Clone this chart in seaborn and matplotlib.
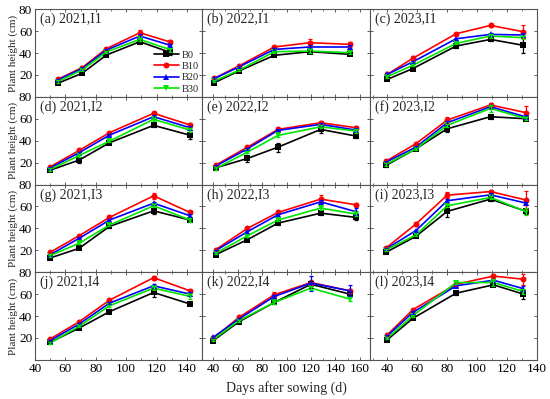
import numpy as np
import pandas as pd
import matplotlib
matplotlib.use("Agg")
import matplotlib.pyplot as plt
from matplotlib.ticker import MultipleLocator
import seaborn as sns

# ---------------- data ----------------
panels = ["a", "b", "c", "d", "e", "f", "g", "h", "i", "j", "k", "l"]
titles = ["(a) 2021,I1", "(b) 2022,I1", "(c) 2023,I1",
          "(d) 2021,I2", "(e) 2022,I2", "(f) 2023,I2",
          "(g) 2021,I3", "(h) 2022,I3", "(i) 2023,I3",
          "(j) 2021,I4", "(k) 2022,I4", "(l) 2023,I4"]
treatments = ["B0", "B10", "B20", "B30"]

days = {
    "a": [55, 71, 87, 109, 129], "b": [41, 61, 90, 119, 152], "c": [40, 57, 86, 109, 131],
    "d": [50, 69, 89, 118, 142], "e": [42, 68, 93, 128, 157], "f": [39, 59, 80, 109, 133],
    "g": [50, 69, 89, 118, 142], "h": [42, 68, 93, 128, 157], "i": [39, 59, 80, 109, 133],
    "j": [50, 69, 89, 118, 142], "k": [40, 61, 90, 120, 152], "l": [40, 57, 86, 111, 131],
}

B0 = {
    "a": [12.4, 21.5, 38.2, 50.3, 40.5], "b": [13.0, 23.6, 37.9, 41.2, 38.8], "c": [16.0, 25.8, 46.4, 52.4, 47.0],
    "d": [13.1, 22.3, 38.1, 54.0, 45.0], "e": [15.2, 23.8, 34.1, 50.3, 44.2], "f": [17.4, 32.6, 50.9, 61.9, 60.0],
    "g": [13.0, 21.8, 41.8, 56.0, 47.6], "h": [16.0, 29.7, 44.8, 53.9, 50.0], "i": [18.2, 32.7, 55.5, 66.7, 55.5],
    "j": [16.0, 29.0, 44.0, 61.5, 51.0], "k": [17.6, 34.8, 52.4, 69.0, 60.0], "l": [18.5, 37.9, 60.9, 68.5, 60.0],
}
B10 = {
    "a": [16.0, 26.7, 44.0, 58.5, 50.0], "b": [17.0, 28.2, 45.5, 49.4, 47.9], "c": [20.6, 35.2, 57.6, 65.2, 59.4],
    "d": [16.2, 31.1, 47.3, 65.0, 54.3], "e": [17.7, 34.1, 50.3, 56.4, 51.8], "f": [21.3, 37.2, 58.8, 72.6, 65.5],
    "g": [18.2, 33.3, 50.0, 69.7, 54.5], "h": [20.6, 40.0, 54.5, 66.7, 61.5], "i": [22.1, 43.9, 70.3, 73.6, 65.8],
    "j": [19.1, 34.8, 54.5, 75.0, 63.0], "k": [19.7, 38.8, 59.4, 70.6, 63.0], "l": [23.0, 45.8, 69.0, 76.5, 73.6],
}
B20 = {
    "a": [15.5, 25.8, 42.7, 55.5, 47.0], "b": [16.7, 27.3, 43.3, 45.5, 45.5], "c": [20.6, 32.0, 53.0, 57.0, 56.4],
    "d": [15.2, 29.0, 45.1, 61.9, 51.8], "e": [16.8, 32.6, 49.4, 54.9, 49.7], "f": [20.4, 34.1, 56.4, 71.0, 61.6],
    "g": [16.0, 30.9, 47.6, 63.0, 51.5], "h": [19.7, 37.0, 52.4, 64.2, 55.2], "i": [21.2, 37.9, 65.2, 70.6, 63.0],
    "j": [17.6, 32.7, 51.8, 67.6, 60.0], "k": [20.6, 37.3, 57.9, 70.0, 63.0], "l": [22.0, 43.3, 67.6, 72.7, 65.0],
}
B30 = {
    "a": [14.0, 24.5, 41.0, 52.4, 43.0], "b": [14.5, 24.2, 41.2, 41.8, 40.3], "c": [18.5, 28.8, 48.8, 55.5, 54.0],
    "d": [13.7, 26.5, 39.6, 59.5, 49.7], "e": [14.6, 29.6, 44.8, 52.7, 48.8], "f": [18.3, 32.6, 54.0, 69.5, 60.0],
    "g": [15.2, 26.4, 43.0, 60.6, 47.6], "h": [17.3, 33.3, 47.6, 58.5, 53.0], "i": [20.3, 33.9, 60.6, 68.2, 55.2],
    "j": [15.5, 30.6, 49.4, 65.5, 57.9], "k": [18.5, 35.8, 52.4, 65.5, 55.5], "l": [20.0, 40.3, 70.6, 70.6, 62.4],
}

# error bars (SD), same layout
err_B0 = {
    "a": [1.0, 1.0, 1.0, 1.5, 2.0], "b": [1.0, 1.0, 1.0, 1.0, 1.0], "c": [1.0, 1.0, 1.5, 1.5, 7.0],
    "d": [1.0, 3.0, 1.0, 1.5, 3.0], "e": [1.0, 3.0, 4.0, 3.0, 1.5], "f": [1.0, 1.0, 3.0, 2.0, 1.5],
    "g": [1.0, 1.0, 1.5, 3.0, 1.5], "h": [1.0, 1.0, 1.5, 1.5, 2.0], "i": [1.0, 1.0, 5.0, 1.5, 2.0],
    "j": [1.0, 1.0, 1.5, 4.0, 1.0], "k": [1.0, 1.0, 1.5, 3.0, 2.0], "l": [1.0, 1.0, 1.5, 1.5, 4.0],
}
err_B10 = {
    "a": [1.0, 1.0, 1.0, 2.5, 1.5], "b": [1.0, 1.0, 1.0, 3.0, 2.0], "c": [1.0, 2.0, 1.0, 1.5, 6.0],
    "d": [1.0, 1.0, 1.0, 1.5, 1.5], "e": [1.0, 1.0, 1.0, 1.5, 1.5], "f": [1.0, 1.0, 3.0, 1.5, 6.0],
    "g": [1.0, 1.0, 1.0, 3.0, 1.5], "h": [1.0, 1.0, 1.0, 4.0, 1.5], "i": [1.0, 1.5, 3.0, 1.5, 8.0],
    "j": [1.0, 1.0, 1.0, 2.0, 1.5], "k": [1.0, 1.0, 3.0, 2.0, 2.0], "l": [1.0, 1.0, 1.5, 1.5, 5.0],
}
err_B20 = {
    "a": [1.0, 1.0, 1.0, 1.5, 1.5], "b": [1.0, 1.0, 1.0, 1.5, 1.5], "c": [1.0, 1.0, 1.0, 1.5, 1.5],
    "d": [1.0, 1.0, 1.0, 1.5, 2.0], "e": [1.0, 1.0, 1.0, 1.5, 1.5], "f": [1.0, 1.0, 2.0, 1.5, 1.5],
    "g": [1.0, 1.0, 1.0, 1.5, 1.5], "h": [1.0, 1.0, 1.0, 1.5, 3.0], "i": [1.0, 1.0, 1.5, 1.5, 1.5],
    "j": [1.0, 1.0, 1.0, 2.0, 1.5], "k": [1.0, 1.0, 1.5, 7.0, 5.0], "l": [1.0, 1.0, 1.5, 1.5, 2.0],
}
err_B30 = {
    "a": [1.0, 1.0, 1.0, 1.5, 2.0], "b": [1.0, 1.0, 1.0, 1.5, 1.5], "c": [1.0, 1.0, 1.0, 1.5, 1.5],
    "d": [1.0, 1.0, 1.0, 1.5, 1.5], "e": [1.0, 1.0, 1.0, 1.5, 1.5], "f": [1.0, 1.0, 1.5, 3.0, 1.5],
    "g": [1.0, 1.0, 1.0, 1.5, 2.0], "h": [1.0, 1.0, 1.0, 1.5, 1.5], "i": [1.0, 1.0, 1.5, 1.5, 3.0],
    "j": [1.0, 1.0, 1.0, 1.5, 2.0], "k": [1.0, 1.0, 1.5, 1.5, 2.0], "l": [1.0, 1.0, 1.5, 3.0, 2.0],
}

col_xlim = [(40, 150), (31, 168), (28, 140)]
col_xticks = [[40, 60, 80, 100, 120, 140],
              [40, 60, 80, 100, 120, 140, 160],
              [40, 60, 80, 100, 120, 140]]

colors = {"B0": "black", "B10": "#ff0000", "B20": "#0000ff", "B30": "#00e600"}
markers = {"B0": "s", "B10": "o", "B20": "^", "B30": "v"}

values = {"B0": B0, "B10": B10, "B20": B20, "B30": B30}
errors = {"B0": err_B0, "B10": err_B10, "B20": err_B20, "B30": err_B30}

# ---------------- style ----------------
sns.set_style("ticks")
plt.rcParams["font.family"] = ["Liberation Serif", "DejaVu Serif"]

fig, axes = plt.subplots(4, 3, figsize=(5.5, 3.99), dpi=100, sharey=True)
fig.subplots_adjust(left=0.0636, right=0.976, top=0.977, bottom=0.098,
                    wspace=0, hspace=0)

for k, p in enumerate(panels):
    r, c = divmod(k, 3)
    ax = axes[r, c]

    rows = []
    for t in treatments:
        for x, y in zip(days[p], values[t][p]):
            rows.append({"day": x, "height": y, "treatment": t})
    df = pd.DataFrame(rows)

    sns.lineplot(data=df, x="day", y="height", hue="treatment", style="treatment",
                 palette=colors, markers=markers, dashes=False, estimator=None,
                 sort=False, linewidth=1.2, markersize=4.3, markeredgewidth=0,
                 legend=(p == "a"), ax=ax)

    for t in treatments:
        ax.errorbar(days[p], values[t][p], yerr=errors[t][p], fmt="none",
                    ecolor=colors[t], elinewidth=0.9, capsize=1.5, capthick=0.9)

    ax.set_xlim(*col_xlim[c])
    ax.set_ylim(0, 80)
    ax.set_xticks(col_xticks[c])
    ax.xaxis.set_minor_locator(MultipleLocator(10))
    ax.set_yticks([0, 20, 40, 60, 80])
    ax.tick_params(direction="in", top=True, right=True, length=2.5,
                   width=0.6, labelsize=9.5, pad=2, colors="#444444",
                   labelcolor="black")
    ax.tick_params(which="minor", direction="in", top=True, length=1.5, width=0.5,
                   colors="#444444")
    for s in ax.spines.values():
        s.set_color("#555555")
        s.set_linewidth(0.8)

    ax.set_xlabel("")
    ax.set_ylabel("")
    if r < 3:
        ax.tick_params(labelbottom=False)
    if c == 0:
        ax.set_ylabel("Plant height (cm)", fontsize=8, labelpad=1)
        if r < 3:
            ax.set_yticklabels(["", "20", "40", "60", "80"])

    ax.text(0.03, 0.96, titles[k], transform=ax.transAxes, ha="left", va="top",
            fontsize=10)

    if p == "a":
        h, l = ax.get_legend_handles_labels()
        ax.legend(h, l, loc="lower right", frameon=False, fontsize=7.5,
                  handlelength=2.4, handletextpad=0.3, labelspacing=0.2,
                  borderaxespad=0.1, borderpad=0.2)

fig.text(0.52, 0.01, "Days after sowing (d)", ha="center", va="bottom",
         fontsize=10)

fig.savefig("out.png", dpi=100)
